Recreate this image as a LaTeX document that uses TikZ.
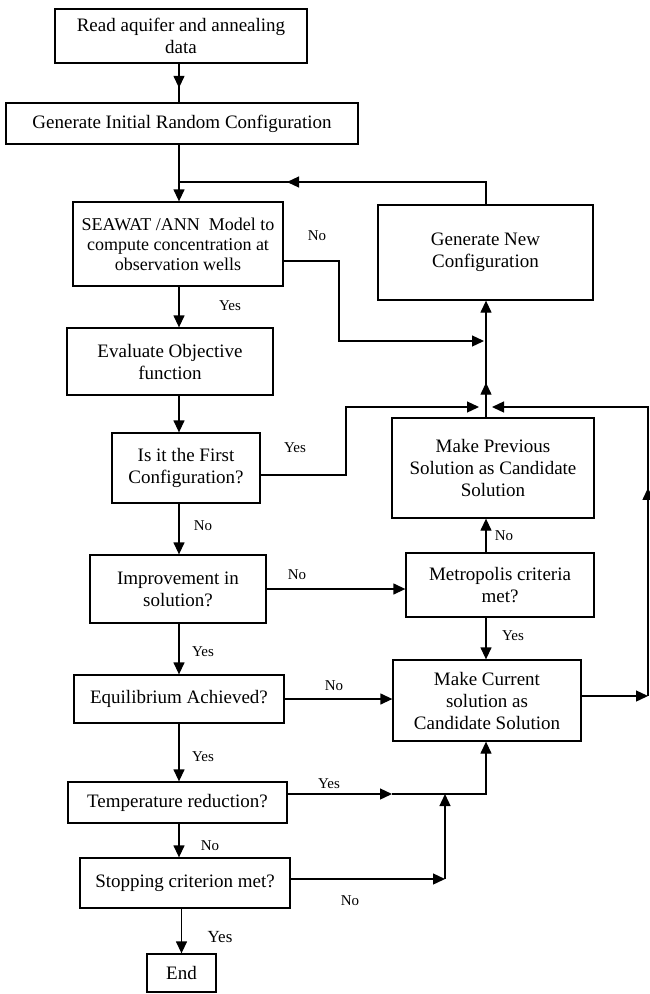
\documentclass[tikz,border=0pt]{standalone}
\usepackage{fontspec}
\setmainfont{Liberation Serif}
\usetikzlibrary{arrows.meta,decorations.markings}
\tikzset{
  box/.style={draw, line width=1.3pt, align=center, inner sep=2pt, font=\fontsize{19}{22}\selectfont},
  ln/.style={line width=1.3pt},
  arr/.style={line width=1.3pt, -{Triangle[length=12pt,width=11pt]}},
  lbl/.style={font=\fontsize{15}{18}\selectfont, inner sep=0pt},
  midarr/.style={postaction={decorate}, decoration={markings, mark=at position #1 with {\arrow{Triangle[length=12pt,width=11pt]}}}},
}
\begin{document}
\begin{tikzpicture}[x=1pt,y=-1pt]
\useasboundingbox[fill=white] (0,0) rectangle (650,994);
% boxes
\node[box, minimum width=252pt, minimum height=54pt] (read) at (181,36) {Read aquifer and annealing\\data};
\node[box, minimum width=352pt, minimum height=41pt] (init) at (182,123.5) {Generate Initial Random Configuration};
\node[box, minimum width=210pt, minimum height=84pt, font=\fontsize{18}{20}\selectfont] (seawat) at (178,244) {SEAWAT /ANN~ Model to\\compute concentration at\\observation wells};
\node[box, minimum width=215pt, minimum height=95pt] (gennew) at (485.5,252.5) {Generate New\\Configuration};
\node[box, minimum width=206pt, minimum height=67pt] (evalobj) at (170,361.5) {Evaluate Objective\\function};
\node[box, minimum width=148pt, minimum height=70pt] (first) at (186,468) {Is it the First\\Configuration?};
\node[box, minimum width=202pt, minimum height=100pt] (prev) at (493,468) {Make Previous\\Solution as Candidate\\Solution};
\node[box, minimum width=176pt, minimum height=68pt] (improve) at (178,589) {Improvement in\\solution?};
\node[box, minimum width=188pt, minimum height=64pt] (metro) at (500,585) {Metropolis criteria\\met?};
\node[box, minimum width=210pt, minimum height=48pt] (equil) at (179,699) {Equilibrium Achieved?};
\node[box, minimum width=188pt, minimum height=81pt] (current) at (487,700.5) {Make Current\\solution as\\Candidate Solution};
\node[box, minimum width=219pt, minimum height=41pt] (temp) at (177.5,802.5) {Temperature reduction?};
\node[box, minimum width=210pt, minimum height=50pt] (stop) at (185,883) {Stopping criterion met?};
\node[box, minimum width=69pt, minimum height=38pt] (endbox) at (181.5,973) {End};
% helper coordinates
\coordinate (cx) at (179,0);
\coordinate (vx) at (486,0);
\coordinate (j1) at (179,182);
\coordinate (s1) at (339,261);
\coordinate (s2) at (339,341);
\coordinate (s3) at (484,341);
\coordinate (f1) at (346,475);
\coordinate (f2) at (346,407);
\coordinate (f3) at (479,407);
\coordinate (r1) at (648,696);
\coordinate (r2) at (648,407);
\coordinate (r3) at (492,407);
\coordinate (t1) at (392,794);
\coordinate (t2) at (486,794);
\coordinate (st1) at (445,879);
% main column
\draw[ln, midarr=0.625] (read.south -| cx) -- (init.north -| cx);
\draw[ln] (init.south -| cx) -- (j1);
\draw[arr] (j1) -- (seawat.north -| cx);
\draw[ln, midarr=0.672] (gennew.north -| vx) -- (vx |- j1) -- (j1);
\draw[arr] (seawat.south -| cx) -- (evalobj.north -| cx);
\draw[arr] (evalobj.south -| cx) -- (first.north -| cx);
\draw[arr] (first.south -| cx) -- (improve.north -| cx);
\draw[arr] (improve.south -| cx) -- (equil.north -| cx);
\draw[arr] (equil.south -| cx) -- (temp.north -| cx);
\draw[arr] (temp.south -| cx) -- (stop.north -| cx);
\draw[arr] (stop.south -| endbox.north) -- (endbox.north);
% branches
\draw[arr] (seawat.east |- s1) -- (s1) -- (s2) -- (s3);
\draw[arr, midarr=0.297] (vx |- prev.north) -- (vx |- gennew.south);
\draw[arr] (first.east |- f1) -- (f1) -- (f2) -- (f3);
\draw[arr] (improve.east) -- (improve.east -| metro.west);
\draw[arr] (vx |- metro.north) -- (vx |- prev.south);
\draw[arr] (vx |- metro.south) -- (vx |- current.north);
\draw[arr] (equil.east) -- (equil.east -| current.west);
\draw[arr] (current.east |- r1) -- (r1);
\draw[arr, midarr=0.4676] (r1) -- (r2) -- (r3);
\draw[arr] (temp.east |- t1) -- (t1);
\draw[arr] (t1) -- (t2) -- (t2 |- current.south);
\draw[arr] (stop.east |- st1) -- (st1);
\draw[arr] (st1) -- (st1 |- t1);
% labels
\node[lbl] (l1) at (317,236) {No};
\node[lbl] (l2) at (230,306) {Yes};
\node[lbl] (l3) at (295,448) {Yes};
\node[lbl] (l4) at (203,526) {No};
\node[lbl] (l5) at (504,536) {No};
\node[lbl] (l6) at (297,575) {No};
\node[lbl] (l7) at (513,636) {Yes};
\node[lbl] (l8) at (203,652) {Yes};
\node[lbl] (l9) at (334,686) {No};
\node[lbl] (l10) at (203,757) {Yes};
\node[lbl] (l11) at (329,784) {Yes};
\node[lbl] (l12) at (210,846) {No};
\node[lbl] (l13) at (350,901) {No};
\node[lbl, font=\fontsize{17}{20}\selectfont] (l14) at (220,937) {Yes};
\end{tikzpicture}
\end{document}
